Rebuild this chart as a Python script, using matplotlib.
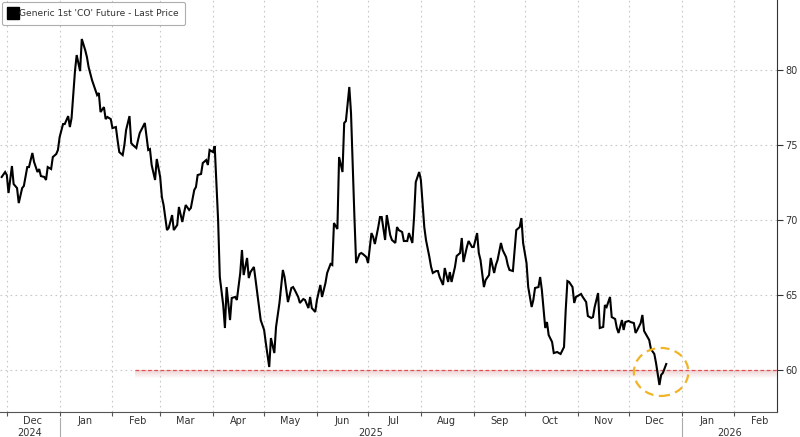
import numpy as np
import pandas as pd
import matplotlib
matplotlib.use("Agg")
import matplotlib.pyplot as plt
import matplotlib.dates as mdates
import matplotlib.transforms as mtransforms
from matplotlib.patches import Ellipse
from matplotlib.lines import Line2D

# days counted from 2024-12-01
DATE0 = pd.Timestamp("2024-12-01")
day_offsets = [
    -3, -1, 0, 1, 3, 4, 6, 7, 9, 10,
    12, 13, 15, 16, 18, 19, 20, 22, 23, 24,
    26, 27, 29, 30, 31, 33, 34, 36, 37, 38,
    40, 41, 43, 44, 46, 47, 48, 50, 51, 53,
    54, 55, 57, 58, 59, 61, 62, 64, 65, 66,
    68, 69, 70, 72, 73, 74, 76, 77, 78,
    81, 83, 84, 85, 87, 88, 90, 91, 92, 94,
    95, 97, 98, 100, 101, 103, 104, 105, 107, 108,
    110, 111, 112, 114, 115, 117, 118, 119, 121, 122,
    124, 125, 127, 128, 129, 131, 132, 134, 135, 137,
    138, 139, 141, 142, 143, 145, 146, 148, 149, 151,
    152, 154, 155, 157, 158, 160, 162, 163, 165, 167,
    168, 169, 171, 172, 174, 175, 177, 178, 179, 181,
    182, 184, 185, 187, 188, 190, 191, 192, 194, 195,
    197, 198, 199, 201, 202, 204, 205, 207, 208, 209,
    211, 212, 214, 215, 216, 218, 219, 220, 222, 223,
    225, 226, 228, 229, 230, 232, 233, 235, 236, 238,
    239, 240, 242, 243, 245, 246, 248, 249, 250, 252,
    253, 254, 256, 257, 259, 260, 261, 263, 264, 266,
    267, 268, 270, 271, 273, 274, 276, 277, 278, 280,
    281, 283, 284, 286, 287, 288, 290, 291, 293, 294,
    295, 297, 298, 299, 301, 302, 303, 305, 306, 308,
    309, 310, 312, 313, 314, 316, 317, 318, 320, 321,
    323, 324, 325, 327, 328, 329, 330, 332, 333, 334,
    336, 337, 338, 340, 341, 343, 344, 345, 347, 348,
    350, 351, 352, 354, 355, 357, 358, 359, 361, 362,
    363, 365, 366, 368, 369, 370, 372, 373, 374, 376,
    377, 378, 380, 381, 383, 384, 385, 387,
]
prices = [
    72.87, 73.2, 73.0, 71.8, 73.6, 72.4, 72.13, 71.13, 72.13, 72.27,
    73.53, 73.53, 74.47, 73.87, 73.2, 73.4, 72.93, 72.87, 72.67, 73.53,
    73.4, 74.2, 74.4, 74.67, 75.53, 76.4, 76.4, 76.93, 76.2, 76.8,
    79.93, 81.0, 79.93, 82.07, 81.33, 80.87, 80.2, 79.33, 79.0, 78.33,
    78.47, 77.2, 77.53, 76.73, 76.87, 76.73, 76.13, 76.2, 75.33, 74.53,
    74.33, 75.0, 76.0, 76.93, 75.13, 75.0, 74.8, 75.33, 75.8,
    76.47, 74.67, 74.73, 73.67, 72.67, 74.07, 72.87, 71.53, 71.0, 69.33,
    69.47, 70.33, 69.33, 69.67, 70.87, 69.87, 70.47, 71.0, 70.67, 70.8,
    72.0, 72.2, 73.0, 73.07, 73.8, 74.0, 73.67, 74.67, 74.53, 74.93,
    70.0, 66.2, 64.33, 62.8, 65.53, 63.33, 64.8, 64.87, 64.67, 66.47,
    68.0, 66.33, 67.47, 66.13, 66.53, 66.87, 66.0, 64.2, 63.33, 62.67,
    61.8, 60.2, 62.13, 61.13, 62.87, 64.47, 66.67, 66.2, 64.53, 65.47,
    65.53, 65.33, 64.87, 64.47, 64.73, 64.67, 64.13, 64.87, 64.13, 63.87,
    64.67, 65.67, 64.87, 65.8, 66.47, 67.07, 67.0, 69.8, 69.4, 74.2,
    73.2, 76.47, 76.6, 78.87, 77.13, 70.2, 67.13, 67.73, 67.8, 67.73,
    67.53, 67.13, 69.13, 68.87, 68.4, 69.53, 70.2, 70.2, 68.67, 70.33,
    69.0, 68.67, 68.47, 69.53, 69.33, 69.2, 68.6, 68.6, 69.13, 68.47,
    70.2, 72.53, 73.2, 72.67, 69.53, 68.67, 67.53, 66.87, 66.47, 66.6,
    66.6, 66.2, 65.67, 66.8, 65.87, 66.53, 65.87, 66.87, 67.6, 67.8,
    68.8, 67.2, 68.2, 68.6, 68.2, 68.2, 69.13, 67.8, 67.33, 65.53,
    66.0, 66.33, 67.47, 66.47, 67.0, 67.33, 68.47, 68.0, 67.53, 67.0,
    66.67, 66.6, 68.0, 69.33, 69.53, 70.13, 68.47, 67.13, 65.53, 64.2,
    64.67, 65.47, 65.53, 66.2, 65.33, 62.8, 63.2, 62.33, 61.87, 61.13,
    61.2, 61.13, 61.07, 61.53, 64.0, 65.93, 65.87, 65.53, 64.47, 64.87,
    65.0, 65.07, 64.87, 64.53, 63.6, 63.47, 63.53, 64.2, 65.13, 62.8,
    62.87, 64.33, 64.2, 64.87, 63.53, 63.4, 62.8, 62.47, 63.33, 62.67,
    63.2, 63.27, 63.2, 63.13, 62.47, 62.67, 63.13, 63.67, 62.6, 62.2,
    62.0, 61.4, 61.07, 60.47, 59.0, 59.67, 59.8, 60.4,
]
y_ticks = [60, 65, 70, 75, 80]
year_labels = ["2024", "2025", "2026"]
series_label = "Generic 1st 'CO' Future - Last Price"

support_level = 60
support_start = pd.Timestamp("2025-02-14")
circle_center = (pd.Timestamp("2025-12-20"), 59.87)
circle_w_days = 32
circle_h = 3.2

x_start = pd.Timestamp("2024-11-27")
x_end = pd.Timestamp("2026-02-26")

dates = DATE0 + pd.to_timedelta(day_offsets, unit="D")

plt.rcParams["font.family"] = ["DejaVu Sans"]
txt_color = "#333333"
grid_color = "#c8c8c8"

fig = plt.figure(figsize=(8, 4.37), dpi=100)
ax = fig.add_axes([0.0, 25 / 437, 777 / 800, 412 / 437])

ax.plot(dates, prices, color="black", lw=1.5, zorder=5, solid_joinstyle="miter")

# support line at 60 with a faint shadow under it
x_sup = [support_start, x_end]
ax.plot(x_sup, [support_level] * 2, color="#e05050", lw=0.9,
        ls=(0, (3, 2)), zorder=4)
for i in range(8):
    ax.fill_between(x_sup, support_level - 0.07 * (i + 1), support_level - 0.07 * i,
                    color="#e8c4c4", alpha=0.7 * (1 - i / 8), lw=0, zorder=3)

# dashed circle around the December low
e = Ellipse((mdates.date2num(circle_center[0]), circle_center[1]),
            width=circle_w_days, height=circle_h, fill=False,
            edgecolor="#f0b429", lw=1.6, ls=(0, (4, 2.5)), zorder=6)
ax.add_patch(e)

ax.set_xlim(x_start, x_end)
ax.set_ylim(57.2, 84.67)

ax.yaxis.tick_right()
ax.set_yticks(y_ticks)
ax.tick_params(axis="y", direction="out", length=4, width=0.8, pad=2,
               labelsize=7, labelcolor=txt_color, color="#333333")

ax.xaxis.set_major_locator(mdates.MonthLocator())
ax.xaxis.set_major_formatter(plt.NullFormatter())
ax.xaxis.set_minor_locator(mdates.MonthLocator(bymonthday=16))
ax.xaxis.set_minor_formatter(mdates.DateFormatter("%b"))
ax.tick_params(axis="x", which="major", direction="out", length=3,
               width=0.8, color="#555555")
ax.tick_params(axis="x", which="minor", length=0, pad=3,
               labelsize=7, labelcolor=txt_color)

ax.grid(True, which="major", color=grid_color, ls=(0, (1.5, 3)), lw=0.8)
for s in ["left", "top"]:
    ax.spines[s].set_visible(False)
ax.spines["right"].set_color("#333333")
ax.spines["bottom"].set_color("#555555")
ax.spines["right"].set_linewidth(0.8)
ax.spines["bottom"].set_linewidth(0.8)

# year row under the month labels
trans = mtransforms.blended_transform_factory(ax.transData, ax.transAxes)
x0n, x1n = mdates.date2num(x_start), mdates.date2num(x_end)
y25 = mdates.date2num(pd.Timestamp("2025-01-01"))
y26 = mdates.date2num(pd.Timestamp("2026-01-01"))
centers = [(x0n + y25) / 2, (y25 + y26) / 2, (y26 + x1n) / 2]
for c, lab in zip(centers, year_labels):
    ax.text(c, -0.052, lab, transform=trans, ha="center", va="center",
            fontsize=7, color=txt_color, clip_on=False)
for yb in [y25, y26]:
    ax.plot([yb, yb], [-0.015, -0.06], transform=trans, color="#aaaaaa",
            lw=0.8, clip_on=False)

handle = Line2D([], [], marker="s", color="black", markersize=8, ls="none")
leg = ax.legend([handle], [series_label], loc="upper left", fontsize=6.6,
                frameon=True, fancybox=True, borderaxespad=0.25,
                handletextpad=0.15, handlelength=0.9, borderpad=0.75,
                labelcolor=txt_color)
leg.get_frame().set_edgecolor("#9a9a9a")
leg.get_frame().set_linewidth(0.8)
leg.set_zorder(10)

fig.savefig("out.png", dpi=100)
